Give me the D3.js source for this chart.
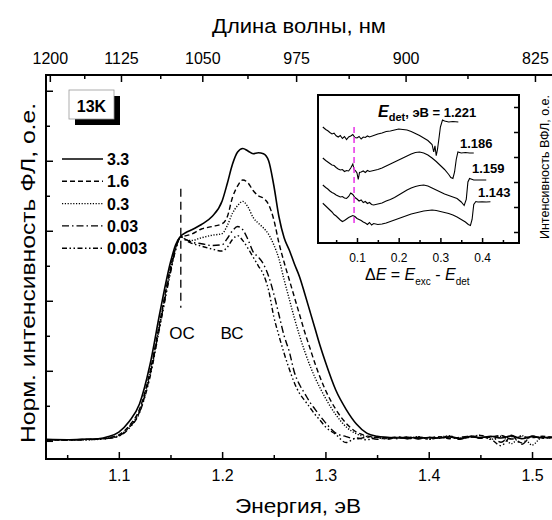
<!DOCTYPE html>
<html>
<head>
<meta charset="utf-8">
<script src="https://cdn.jsdelivr.net/npm/d3@7"></script>
<style>
  body { margin: 0; background: #fff; }
  svg { display: block; font-family: Arial, "Liberation Sans", sans-serif; }
</style>
</head>
<body>
<svg id="chart" width="552" height="520"></svg>
<script>
// ---- main spectra: normalised PL intensity vs energy (eV) ----
const energy = [1.03,1.05,1.07,1.08,1.09,1.10,1.11,1.12,1.13,1.14,
  1.15,1.155,1.16,1.165,1.17,1.18,1.19,1.20,1.205,1.21,
  1.215,1.22,1.225,1.23,1.235,1.24,1.245,1.25,1.255,1.26,
  1.265,1.27,1.275,1.28,1.285,1.29,1.295,1.30,1.31,1.32,
  1.33,1.34,1.35,1.36,1.37,1.38,1.39,1.40,1.41,1.42,
  1.43,1.44,1.45,1.46,1.47,1.48,1.49,1.50,1.51,1.52];

const pl33 = [0.004,0.003,0.005,0.006,0.012,0.025,0.055,0.105,0.215,0.37,
  0.51,0.56,0.585,0.595,0.602,0.618,0.64,0.685,0.735,0.79,
  0.825,0.835,0.828,0.82,0.823,0.82,0.80,0.73,0.64,0.58,
  0.545,0.505,0.468,0.42,0.37,0.32,0.27,0.225,0.145,0.09,
  0.048,0.022,0.013,0.01,0.008,0.01,0.007,0.009,0.008,0.011,
  0.007,0.012,0.009,0.013,0.008,0.014,0.006,0.012,0.009,0.011];

const pl16 = [0.003,0.002,0.004,0.005,0.009,0.017,0.043,0.09,0.195,0.345,
  0.495,0.552,0.583,0.586,0.59,0.605,0.612,0.62,0.64,0.695,
  0.728,0.745,0.737,0.715,0.70,0.693,0.675,0.632,0.565,0.51,
  0.46,0.41,0.36,0.31,0.265,0.22,0.18,0.145,0.09,0.05,
  0.025,0.014,0.01,0.008,0.011,0.006,0.01,0.008,0.012,0.006,
  0.01,0.013,0.007,0.011,0.015,0.005,0.012,0.009,0.013,0.008];

const pl03 = [0.002,0.003,0.003,0.004,0.008,0.015,0.04,0.085,0.19,0.34,
  0.49,0.55,0.583,0.575,0.572,0.58,0.587,0.592,0.615,0.65,
  0.672,0.684,0.668,0.638,0.622,0.608,0.59,0.56,0.52,0.46,
  0.405,0.35,0.30,0.255,0.215,0.18,0.15,0.122,0.075,0.04,
  0.02,0.012,0.009,0.006,0.01,0.007,0.012,0.005,0.01,0.014,
  0.006,0.011,0.016,0.004,0.013,-0.008,0.015,-0.012,0.01,0.006];

const pl003 = [0.003,0.002,0.004,0.004,0.007,0.014,0.038,0.082,0.185,0.335,
  0.485,0.548,0.583,0.575,0.568,0.563,0.558,0.56,0.578,0.60,
  0.612,0.603,0.575,0.54,0.525,0.505,0.47,0.42,0.36,0.30,
  0.255,0.195,0.16,0.135,0.11,0.09,0.07,0.052,0.022,0.012,
  0.005,0.01,0.004,0.009,0.006,0.011,0.005,0.01,0.007,0.012,
  0.004,0.014,0.008,0.012,-0.004,0.016,-0.01,0.013,0.007,0.01];

const pl0003 = [0.002,0.003,0.003,0.005,0.007,0.013,0.036,0.08,0.18,0.33,
  0.48,0.545,0.583,0.572,0.565,0.556,0.548,0.542,0.553,0.575,
  0.586,0.572,0.55,0.525,0.50,0.475,0.43,0.355,0.30,0.25,
  0.205,0.165,0.135,0.115,0.095,0.075,0.058,0.04,0.018,-0.005,
  0.008,0.003,0.009,0.005,0.01,0.006,0.011,0.004,0.009,0.013,
  0.007,0.01,0.015,0.005,-0.014,0.012,-0.006,0.014,0.008,0.012];

const powers = ["3.3", "1.6", "0.3", "0.03", "0.003"];
const spectra = [pl33, pl16, pl03, pl003, pl0003];

const bottomTicks = [1.1, 1.2, 1.3, 1.4, 1.5];
const bottomMinor = [1.05, 1.15, 1.25, 1.35, 1.45];
const topWavelengths = [1200, 1125, 1050, 975, 900, 825];
const topMinor = [1162.5, 1087.5, 1012.5, 937.5, 862.5];
const leftTicks = [0, 0.2, 0.4, 0.6, 0.8, 1.0];
const leftMinor = [0.1, 0.3, 0.5, 0.7, 0.9];

// ---- inset: PLE spectra vs dE = Eexc - Edet ----
const de1221 = [0.018,0.025,0.03,0.035,0.04,0.045,0.05,0.055,0.06,0.065,0.07,0.075,0.08,0.085,0.09,0.095,0.10,0.105,0.11,0.115,0.12,0.125,0.13,0.14,0.15,0.16,0.17,0.18,0.19,0.20,0.21,0.22,0.23,0.24,0.25,0.26,0.27,0.28,0.284,0.287,0.29,0.293,0.297,0.30,0.305,0.31,0.32,0.33,0.343];
const ple1221 = [4.20,4.10,4.05,3.98,3.92,3.95,3.85,3.80,3.86,3.74,3.82,3.70,3.80,3.84,3.90,3.78,3.76,3.82,3.72,3.80,3.78,3.84,3.80,3.86,3.92,3.96,4.02,4.04,4.08,4.12,4.10,4.08,4.02,3.94,3.86,3.76,3.66,3.50,3.20,3.45,3.05,3.30,3.80,4.20,4.48,4.44,4.40,4.42,4.40];

const de1186 = [0.018,0.025,0.03,0.035,0.04,0.045,0.05,0.055,0.06,0.065,0.07,0.075,0.08,0.085,0.09,0.093,0.097,0.10,0.103,0.106,0.11,0.115,0.12,0.125,0.13,0.14,0.15,0.16,0.17,0.18,0.19,0.20,0.21,0.22,0.23,0.24,0.25,0.26,0.27,0.28,0.29,0.30,0.31,0.32,0.325,0.33,0.334,0.338,0.342,0.35,0.36,0.37,0.38];
const ple1186 = [2.96,2.86,2.80,2.74,2.68,2.66,2.58,2.52,2.48,2.50,2.42,2.46,2.44,2.56,2.72,2.50,2.44,2.36,2.10,2.38,2.40,2.44,2.38,2.46,2.42,2.46,2.50,2.56,2.64,2.72,2.80,2.88,2.96,3.04,3.12,3.18,3.20,3.16,3.08,2.96,2.82,2.66,2.50,2.30,2.18,2.14,2.40,2.90,3.20,3.16,3.18,3.16,3.16];

const de1159 = [0.018,0.025,0.03,0.035,0.04,0.045,0.05,0.055,0.06,0.065,0.07,0.075,0.08,0.085,0.09,0.095,0.10,0.105,0.11,0.115,0.12,0.125,0.13,0.135,0.14,0.15,0.16,0.17,0.18,0.19,0.20,0.21,0.22,0.23,0.24,0.25,0.26,0.27,0.28,0.29,0.30,0.31,0.32,0.33,0.34,0.35,0.357,0.362,0.366,0.37,0.38,0.39,0.40,0.41];
const ple1159 = [1.88,1.78,1.72,1.64,1.58,1.54,1.48,1.44,1.40,1.42,1.36,1.34,1.42,1.56,1.50,1.38,1.32,1.24,1.28,1.18,1.22,1.14,1.18,1.10,1.08,1.12,1.16,1.24,1.30,1.38,1.48,1.58,1.68,1.76,1.82,1.86,1.88,1.84,1.76,1.68,1.60,1.52,1.46,1.40,1.34,1.20,1.06,1.30,2.00,2.14,2.08,2.08,2.08,2.08];

const de1143 = [0.018,0.025,0.03,0.035,0.04,0.045,0.05,0.055,0.06,0.065,0.07,0.075,0.08,0.085,0.09,0.095,0.10,0.105,0.11,0.115,0.12,0.125,0.13,0.135,0.14,0.15,0.16,0.17,0.18,0.19,0.20,0.21,0.22,0.23,0.24,0.25,0.26,0.27,0.28,0.29,0.30,0.31,0.32,0.33,0.34,0.35,0.36,0.367,0.372,0.376,0.38,0.385,0.39,0.40,0.41,0.42];
const ple1143 = [1.15,1.04,0.96,0.88,0.80,0.70,0.64,0.56,0.48,0.42,0.46,0.52,0.58,0.62,0.66,0.62,0.54,0.50,0.46,0.40,0.36,0.30,0.38,0.28,0.34,0.30,0.32,0.36,0.42,0.48,0.54,0.60,0.66,0.72,0.76,0.80,0.84,0.86,0.88,0.86,0.82,0.78,0.74,0.68,0.60,0.50,0.40,0.30,0.26,0.50,1.10,1.22,1.20,1.21,1.20,1.21];

const insetTicks = [0.1, 0.2, 0.3, 0.4];
const insetMinor = [0.05, 0.15, 0.25, 0.35, 0.45];
const insetYTicks = [0, 1, 2, 3, 4, 5];
const detLabels = ["1.221", "1.186", "1.159", "1.143"];
const insetDE = [de1221, de1186, de1159, de1143];
const insetPLE = [ple1221, ple1186, ple1159, ple1143];

// ---------------------------------------------------------------
const svg = d3.select("#chart");
const FONT = 'Arial, "Liberation Sans", sans-serif';
const HC = 1239.84;

const x = d3.scaleLinear().domain([1.0295, 1.5203]).range([46, 553]);
const y = d3.scaleLinear().domain([-0.052, 1.045]).range([459, 75]);

svg.append("defs").append("clipPath").attr("id", "plotclip")
    .append("rect").attr("x", 46).attr("y", 75).attr("width", 507).attr("height", 384);

function styleAxis(g, size) {
    g.select(".domain").remove();
    g.attr("font-family", FONT).attr("font-size", size);
    g.selectAll("line").attr("stroke", "#000").attr("stroke-width", 1.5);
    g.selectAll("text").attr("fill", "#000");
}

// bottom axis
svg.append("g").attr("transform", "translate(0,459)")
    .call(d3.axisBottom(x).tickValues(bottomTicks).tickSize(-7).tickPadding(11).tickFormat(d3.format(".1f")))
    .call(g => styleAxis(g, 16));
svg.append("g").attr("transform", "translate(0,459)")
    .call(d3.axisBottom(x).tickValues(bottomMinor).tickSize(-4).tickFormat(""))
    .call(g => styleAxis(g, 16));

// top axis (wavelength)
svg.append("g").attr("transform", "translate(0,75)")
    .call(d3.axisTop(x).tickValues(topWavelengths.map(w => HC / w)).tickSize(-7).tickPadding(11)
        .tickFormat((d, i) => topWavelengths[i]))
    .call(g => styleAxis(g, 16));
svg.append("g").attr("transform", "translate(0,75)")
    .call(d3.axisTop(x).tickValues(topMinor.map(w => HC / w)).tickSize(-4).tickFormat(""))
    .call(g => styleAxis(g, 16));

// left axis, ticks only
svg.append("g").attr("transform", "translate(46,0)")
    .call(d3.axisLeft(y).tickValues(leftTicks).tickSize(-7).tickFormat(""))
    .call(g => styleAxis(g, 16));
svg.append("g").attr("transform", "translate(46,0)")
    .call(d3.axisLeft(y).tickValues(leftMinor).tickSize(-4).tickFormat(""))
    .call(g => styleAxis(g, 16));

// frame
svg.append("rect").attr("x", 46).attr("y", 75).attr("width", 507).attr("height", 384)
    .attr("fill", "none").attr("stroke", "#000").attr("stroke-width", 2);

// axis titles
svg.append("text").text("Длина волны, нм")
    .attr("x", 299).attr("y", 33).attr("text-anchor", "middle")
    .attr("font-size", 20).attr("textLength", 174).attr("lengthAdjust", "spacingAndGlyphs");
svg.append("text").text("Энергия, эВ")
    .attr("x", 298).attr("y", 513).attr("text-anchor", "middle")
    .attr("font-size", 20).attr("textLength", 126).attr("lengthAdjust", "spacingAndGlyphs");
svg.append("text").text("Норм. интенсивность ФЛ, о.е.")
    .attr("transform", "translate(35,273) rotate(-90)").attr("text-anchor", "middle")
    .attr("font-size", 21).attr("textLength", 340).attr("lengthAdjust", "spacingAndGlyphs");

// curves
const dashStyle = [null, "5,3", "1.2,1.6", "7,3,1.5,3", "5,2.5,1.5,2.5,1.5,2.5"];
const line = d3.line()
    .x(d => x(d[0])).y(d => y(d[1]))
    .curve(d3.curveMonotoneX);

const curves = svg.append("g").attr("clip-path", "url(#plotclip)");
spectra.forEach((s, i) => {
    curves.append("path")
        .datum(energy.map((e, k) => [e, s[k]]))
        .attr("d", line)
        .attr("fill", "none")
        .attr("stroke", "#000")
        .attr("stroke-width", i === 0 ? 1.6 : 1.4)
        .attr("stroke-dasharray", dashStyle[i]);
});

// OC marker
svg.append("line")
    .attr("x1", x(1.16)).attr("x2", x(1.16))
    .attr("y1", y(0.72)).attr("y2", y(0.38))
    .attr("stroke", "#000").attr("stroke-width", 1.3).attr("stroke-dasharray", "8,5");
svg.append("text").text("ОС").attr("x", 182).attr("y", 339)
    .attr("text-anchor", "middle").attr("font-size", 17);
svg.append("text").text("ВС").attr("x", 232).attr("y", 339)
    .attr("text-anchor", "middle").attr("font-size", 17);

// 13K box
svg.append("rect").attr("x", 75).attr("y", 96).attr("width", 45).attr("height", 29).attr("fill", "#000");
svg.append("rect").attr("x", 69).attr("y", 90).attr("width", 45).attr("height", 29)
    .attr("fill", "#fff").attr("stroke", "#999").attr("stroke-width", 0.8);
svg.append("text").text("13K").attr("x", 91.5).attr("y", 111.5)
    .attr("text-anchor", "middle").attr("font-size", 16).attr("font-weight", "bold");

// legend
const legend = svg.append("g");
powers.forEach((p, i) => {
    const ly = 159 + i * 22.3;
    legend.append("line").attr("x1", 62).attr("x2", 103).attr("y1", ly).attr("y2", ly)
        .attr("stroke", "#000").attr("stroke-width", i === 0 ? 1.6 : 1.4)
        .attr("stroke-dasharray", dashStyle[i]);
    legend.append("text").text(p).attr("x", 107).attr("y", ly + 6)
        .attr("font-size", 16).attr("font-weight", "bold");
});

// ---- inset ----
const xi = d3.scaleLinear().domain([0.0065, 0.4885]).range([318, 519]);
const yi = d3.scaleLinear().domain([-0.44, 5.48]).range([243, 95]);

const inset = svg.append("g");
inset.append("rect").attr("x", 318).attr("y", 95).attr("width", 201).attr("height", 148).attr("fill", "#fff");

inset.append("g").attr("transform", "translate(0,243)")
    .call(d3.axisBottom(xi).tickValues(insetTicks).tickSize(-5).tickPadding(10).tickFormat(d3.format(".1f")))
    .call(g => styleAxis(g, 12));
inset.append("g").attr("transform", "translate(0,243)")
    .call(d3.axisBottom(xi).tickValues(insetMinor).tickSize(-3).tickFormat(""))
    .call(g => styleAxis(g, 12));
inset.append("g").attr("transform", "translate(519,0)")
    .call(d3.axisRight(yi).tickValues(insetYTicks).tickSize(-5).tickFormat(""))
    .call(g => styleAxis(g, 12));

const lineI = d3.line().x(d => xi(d[0])).y(d => yi(d[1]));
insetPLE.forEach((p, i) => {
    inset.append("path")
        .datum(insetDE[i].map((d, k) => [d, p[k]]))
        .attr("d", lineI)
        .attr("fill", "none").attr("stroke", "#000").attr("stroke-width", 1.1);
});

// magenta marker
inset.append("line")
    .attr("x1", xi(0.093)).attr("x2", xi(0.093))
    .attr("y1", yi(4.2)).attr("y2", yi(0.2))
    .attr("stroke", "#e83ee8").attr("stroke-width", 1.6).attr("stroke-dasharray", "6,4");

inset.append("rect").attr("x", 318).attr("y", 95).attr("width", 201).attr("height", 148)
    .attr("fill", "none").attr("stroke", "#000").attr("stroke-width", 2);

// detection energy labels
const edet = inset.append("text").attr("x", 378).attr("y", 117).attr("font-weight", "bold");
edet.append("tspan").text("E").attr("font-style", "italic").attr("font-size", 16);
edet.append("tspan").text("det").attr("font-size", 11).attr("dy", 4);
edet.append("tspan").text(", эВ = " + detLabels[0]).attr("font-size", 13).attr("dy", -4);

const labelPos = [null, [460, 148], [472, 173], [478, 197]];
detLabels.forEach((t, i) => {
    if (i === 0) return;
    inset.append("text").text(t).attr("x", labelPos[i][0]).attr("y", labelPos[i][1])
        .attr("font-size", 13).attr("font-weight", "bold");
});

// inset axis titles
const dt = inset.append("text").attr("x", 365).attr("y", 280).attr("font-size", 16);
dt.append("tspan").text("Δ");
dt.append("tspan").text("E").attr("font-style", "italic");
dt.append("tspan").text(" = ");
dt.append("tspan").text("E").attr("font-style", "italic");
dt.append("tspan").text("exc").attr("font-size", 10).attr("dy", 5);
dt.append("tspan").text(" - ").attr("dy", -5);
dt.append("tspan").text("E").attr("font-style", "italic");
dt.append("tspan").text("det").attr("font-size", 10).attr("dy", 5);

inset.append("text").text("Интенсивность ВФЛ, о.е.")
    .attr("transform", "translate(549,167) rotate(-90)").attr("text-anchor", "middle")
    .attr("font-size", 12.5);
</script>
</body>
</html>
